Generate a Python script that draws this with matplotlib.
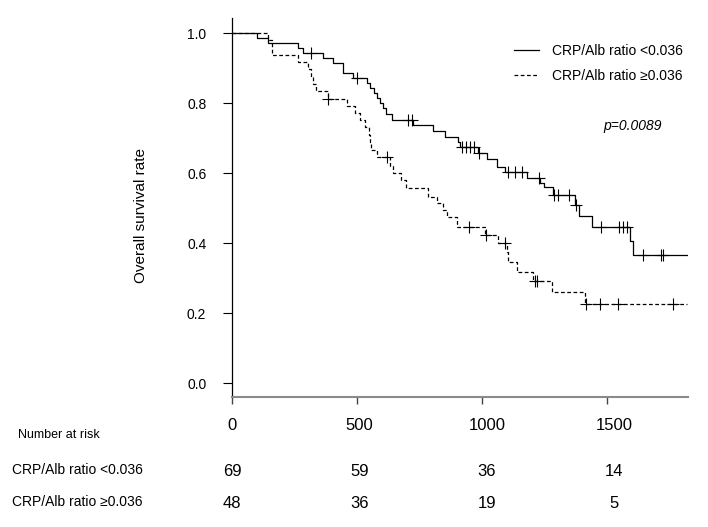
import numpy as np
import matplotlib
matplotlib.use('Agg')
import matplotlib.pyplot as plt
from matplotlib.transforms import blended_transform_factory

plt.rcParams['font.family'] = ['Liberation Sans', 'DejaVu Sans']

# CRP/Alb ratio <0.036 (solid)
low_times = [101, 143, 265, 285, 363, 403, 445, 483, 539, 552, 568, 579, 591, 605, 615, 639,
             725, 805, 852, 903, 912, 985, 1019, 1059, 1092, 1179, 1232, 1249, 1283, 1372,
             1389, 1439, 1592, 1603]
low_surv = [0.986, 0.971, 0.957, 0.942, 0.928, 0.914, 0.886, 0.872, 0.856, 0.842, 0.828, 0.813,
            0.799, 0.785, 0.770, 0.751, 0.736, 0.720, 0.704, 0.690, 0.673, 0.656, 0.640, 0.618,
            0.604, 0.585, 0.571, 0.559, 0.537, 0.509, 0.477, 0.447, 0.407, 0.366]
low_censor = [315, 501, 705, 719, 919, 936, 952, 969, 989, 1105, 1132, 1159, 1229, 1289, 1305,
              1348, 1376, 1475, 1548, 1565, 1579, 1645, 1716, 1723]
low_end = 1820

# CRP/Alb ratio >=0.036 (dashed)
high_times = [144, 160, 264, 304, 315, 324, 337, 384, 459, 492, 512, 532, 548, 552, 556, 579,
              632, 645, 676, 696, 785, 819, 845, 859, 899, 1012, 1065, 1099, 1105, 1139, 1205,
              1279, 1412]
high_surv = [0.979, 0.938, 0.917, 0.896, 0.875, 0.854, 0.833, 0.8125, 0.791, 0.771, 0.751,
             0.732, 0.710, 0.688, 0.666, 0.645, 0.620, 0.599, 0.580, 0.556, 0.532, 0.513, 0.494,
             0.475, 0.447, 0.423, 0.399, 0.375, 0.347, 0.318, 0.292, 0.261, 0.226]
high_censor = [386, 621, 949, 1016, 1092, 1212, 1221, 1415, 1472, 1545, 1765]
high_end = 1819

risk_times = [0, 500, 1000, 1500]
risk_low = [69, 59, 36, 14]
risk_high = [48, 36, 19, 5]
group_labels = ['CRP/Alb ratio <0.036', 'CRP/Alb ratio \u22650.036']


def km_curve(times, surv, end):
    t = np.concatenate([[0], times, [end]])
    s = np.concatenate([[1.0], surv, [surv[-1]]])
    return t, s


def censor_y(times, surv, cens):
    t = np.concatenate([[0], times])
    s = np.concatenate([[1.0], surv])
    idx = np.searchsorted(t, cens, side='right') - 1
    return s[idx]


fig = plt.figure(figsize=(7.08, 5.27), dpi=100)
ax = fig.add_axes([232 / 708, 1 - 397 / 527, 456 / 708, 379 / 527])

t, s = km_curve(low_times, low_surv, low_end)
ax.step(t, s, where='post', color='black', lw=0.9, label=group_labels[0])
ax.plot(low_censor, censor_y(low_times, low_surv, low_censor), ls='none', marker='+',
        ms=8, mew=0.8, color='black')

t, s = km_curve(high_times, high_surv, high_end)
ax.step(t, s, where='post', color='black', lw=0.9, ls=(0, (3, 2)), label=group_labels[1])
ax.plot(high_censor, censor_y(high_times, high_surv, high_censor), ls='none', marker='+',
        ms=8, mew=0.8, color='black')

ax.set_xlim(0, 1825)
ax.set_ylim(-0.04, 1.043)
ax.set_yticks([0.0, 0.2, 0.4, 0.6, 0.8, 1.0])
ax.set_yticklabels(['0.0', '0.2', '0.4', '0.6', '0.8', '1.0'], fontsize=10)
ax.set_xticks(risk_times)
ax.set_xticklabels([])
ax.tick_params(axis='y', length=6.5, width=0.8, pad=12)
ax.tick_params(axis='x', length=5, width=1.0, color='#444444')

for side in ['top', 'right']:
    ax.spines[side].set_visible(False)
ax.spines['left'].set_linewidth(0.9)
ax.spines['bottom'].set_color('#8a8a8a')
ax.spines['bottom'].set_linewidth(1.5)

ax.set_ylabel('Overall survival rate', fontsize=11)
ax.yaxis.set_label_coords(-(232 - 148) / 456, 0.48)

ax.legend(loc='upper left', bbox_to_anchor=(514 / 708, 1 - 44 / 527),
          bbox_transform=fig.transFigure, frameon=False, fontsize=10,
          handlelength=1.8, handletextpad=0.95, labelspacing=0.8,
          borderpad=0, borderaxespad=0)

fig.text(603 / 708, 1 - 126 / 527, 'p=0.0089', fontsize=10, style='italic',
         ha='left', va='center')

# number at risk table (columns a bit wider than the axis ticks)
tr = blended_transform_factory(ax.transData, fig.transFigure)
col_x = [v * 1.02 for v in risk_times]
for x, lab, n1, n2 in zip(col_x, risk_times, risk_low, risk_high):
    ax.text(x, 1 - 426 / 527, str(lab), transform=tr, ha='center', va='center',
            fontsize=12, clip_on=False)
    ax.text(x, 1 - 471 / 527, str(n1), transform=tr, ha='center', va='center',
            fontsize=12, clip_on=False)
    ax.text(x, 1 - 504 / 527, str(n2), transform=tr, ha='center', va='center',
            fontsize=12, clip_on=False)

fig.text(18 / 708, 1 - 435 / 527, 'Number at risk', fontsize=9, ha='left', va='center')
fig.text(12 / 708, 1 - 470 / 527, group_labels[0], fontsize=10, ha='left', va='center')
fig.text(12 / 708, 1 - 502 / 527, group_labels[1], fontsize=10, ha='left', va='center')

fig.savefig('out.png', dpi=100)
